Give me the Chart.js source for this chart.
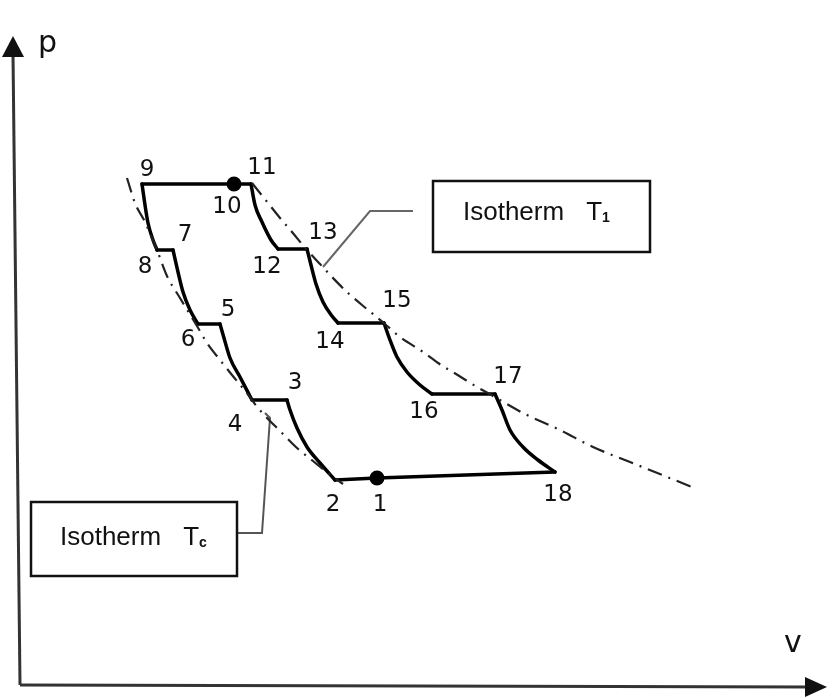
<!DOCTYPE html>
<html>
<head>
<meta charset="utf-8">
<script src="https://cdn.jsdelivr.net/npm/chart.js@4/dist/chart.umd.min.js"></script>
<style>
html,body{margin:0;padding:0;background:#fff;}
#c{display:block;}
</style>
</head>
<body>
<canvas id="c" width="839" height="698"></canvas>
<script>
// ---- data (arbitrary units: v horizontal, p vertical) ----
// cycle path 1-2-3-...-18-1, with read-off points along the curved legs
const cycleV = [357,315,300,287,277,270,267,232,220,210,204,200,178,170,163,158,153,137,133,128,125,122,214,231,235,242,251,258,287,291,296,303,312,318,364,370,377,387,400,412,475,482,490,503,518,535,357];
const cycleP = [207,205,222,238,257,275,285,285,308,327,347,361,361,375,393,413,435,435,445,462,480,501,501,501,480,463,445,436,436,420,401,383,369,362,362,345,328,313,300,291,291,275,255,238,225,213,207];
// index in the cycle arrays of each numbered state (1..18, then back to 1)
const stateIndex = [0,1,6,7,11,12,16,17,21,22,23,27,28,33,34,39,40,45,46];

const dotV = [214,357];
const dotP = [501,207];

const isoT1V = [232,248,260,272,287,300,312,328,342,365,380,403,421,436,457,473,503,540,573,610,672];
const isoT1P = [502,482,467,453,435,421,408,392,380,361,348,333,320,311,298,289,272,255,238,223,198];

const isoTcV = [107,115,125,137,147,160,177,187,200,212,226,238,262,277,293,308,323];
const isoTcP = [507,482,463,435,409,387,359,342,325,310,293,277,252,237,224,212,201];

const stateLabels = ['1','2','3','4','5','6','7','8','9','10','11','12','13','14','15','16','17','18'];
const labelV = [360,313,275,215,208,168,165,125,127,207,242,247,303,310,377,404,488,538];
const labelP = [180,180,302,260,375,345,450,418,515,478,517,418,452,343,384,273,308,190];

const leaderT1V = [393,350,303];
const leaderT1P = [474,474,418];
const leaderTcV = [217,242,250,245];
const leaderTcP = [152,152,267,272];

const boxT1 = {v0:413, v1:630, p0:504, p1:433, textV:443, textP:465, sub:'1'};
const boxTc = {v0:11, v1:217, p0:183, p1:109, textV:40, textP:140, sub:'c'};

const vAxisEnd = 807, pAxisEnd = 649;
const vMax = 800, pMax = 650;

const pts = (xs, ys) => xs.map((v, i) => ({x: v, y: ys[i]}));

// split the cycle into legs between state points; curved legs are smoothed
const cycleDatasets = [];
for (let s = 0; s < stateIndex.length - 1; s++) {
  let seg = pts(cycleV.slice(stateIndex[s], stateIndex[s + 1] + 1), cycleP.slice(stateIndex[s], stateIndex[s + 1] + 1));
  if (seg[0].x > seg[seg.length - 1].x) seg = seg.reverse();
  cycleDatasets.push({
    data: seg, showLine: true, borderColor: '#000', borderWidth: 3.5,
    borderCapStyle: 'round', borderJoinStyle: 'round', pointRadius: 0,
    cubicInterpolationMode: seg.length > 2 ? 'monotone' : 'default', tension: 0
  });
}

const annot = {
  id: 'annot',
  afterDatasetsDraw(chart) {
    const {ctx, scales: {x, y}} = chart;
    const X = v => x.getPixelForValue(v), Y = p => y.getPixelForValue(p);
    ctx.save();
    // axes
    ctx.strokeStyle = '#333'; ctx.fillStyle = '#111'; ctx.lineWidth = 3;
    const ox = X(0), oy = Y(0);
    const ytx = X(-7), yty = Y(pAxisEnd);
    ctx.beginPath(); ctx.moveTo(ox, oy); ctx.lineTo(ytx, yty + 18); ctx.stroke();
    ctx.beginPath(); ctx.moveTo(ytx, yty); ctx.lineTo(ytx - 11, yty + 21); ctx.lineTo(ytx + 11, yty + 21); ctx.closePath(); ctx.fill();
    const xtx = X(vAxisEnd), xty = Y(-2);
    ctx.beginPath(); ctx.moveTo(ox, oy); ctx.lineTo(xtx - 18, xty); ctx.stroke();
    ctx.beginPath(); ctx.moveTo(xtx, xty); ctx.lineTo(xtx - 22, xty - 10); ctx.lineTo(xtx - 22, xty + 10); ctx.closePath(); ctx.fill();

    // axis titles
    ctx.fillStyle = '#111';
    ctx.font = '30px "DejaVu Sans"';
    ctx.textAlign = 'left'; ctx.textBaseline = 'alphabetic';
    ctx.fillText('p', X(18), Y(633));
    ctx.fillText('v', X(764), Y(33));

    // state labels
    ctx.font = '23px "DejaVu Sans"';
    ctx.textAlign = 'center'; ctx.textBaseline = 'middle';
    stateLabels.forEach((t, i) => ctx.fillText(t, X(labelV[i]), Y(labelP[i])));

    // boxes
    [boxT1, boxTc].forEach(b => {
      ctx.strokeStyle = '#111'; ctx.lineWidth = 2.5;
      ctx.strokeRect(X(b.v0), Y(b.p0), X(b.v1) - X(b.v0), Y(b.p1) - Y(b.p0));
      ctx.textAlign = 'left'; ctx.textBaseline = 'alphabetic';
      ctx.font = '26px "Liberation Sans"';
      const tx = X(b.textV), ty = Y(b.textP);
      ctx.fillText('Isotherm', tx, ty);
      const w = ctx.measureText('Isotherm').width;
      ctx.fillText('T', tx + w + 22, ty);
      const wt = ctx.measureText('T').width;
      ctx.font = 'bold 14px "Liberation Sans"';
      ctx.fillText(b.sub, tx + w + 22 + wt, ty + 2);
    });
    ctx.restore();
  }
};

new Chart(document.getElementById('c'), {
  type: 'scatter',
  data: {
    datasets: [
      {data: pts(isoT1V, isoT1P), showLine: true, borderColor: '#222', borderWidth: 2.2, borderDash: [15, 7, 2, 7], pointRadius: 0, cubicInterpolationMode: 'monotone'},
      {data: pts(isoTcV, isoTcP), showLine: true, borderColor: '#222', borderWidth: 2.2, borderDash: [15, 7, 2, 7], pointRadius: 0, cubicInterpolationMode: 'monotone'},
      {data: pts(leaderT1V, leaderT1P), showLine: true, borderColor: '#666', borderWidth: 2, pointRadius: 0},
      {data: pts(leaderTcV, leaderTcP), showLine: true, borderColor: '#555', borderWidth: 2, pointRadius: 0},
      ...cycleDatasets,
      {data: pts(dotV, dotP), showLine: false, pointRadius: 7.5, pointBackgroundColor: '#000', pointBorderColor: '#000', pointBorderWidth: 0}
    ]
  },
  options: {
    responsive: false,
    animation: false,
    layout: {padding: {left: 20, right: 19, top: 35, bottom: 13}},
    plugins: {legend: {display: false}, tooltip: {enabled: false}},
    scales: {
      x: {type: 'linear', min: 0, max: vMax, display: false},
      y: {type: 'linear', min: 0, max: pMax, display: false}
    },
    clip: false
  },
  plugins: [annot]
});
</script>
</body>
</html>
